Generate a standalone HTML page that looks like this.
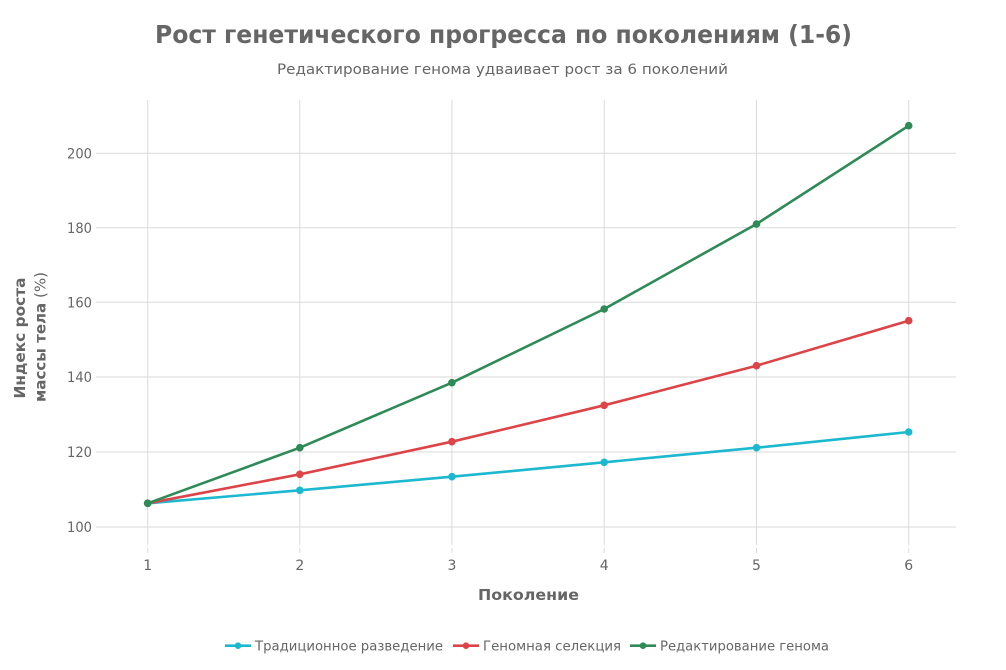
<!DOCTYPE html>
<html>
<head>
<meta charset="utf-8">
<style>
  html, body { margin: 0; padding: 0; background: #ffffff; }
  svg { display: block; }
  text { font-family: "DejaVu Sans", "Liberation Sans", sans-serif; fill: #666666; }
</style>
</head>
<body>
<svg width="1006" height="670" viewBox="0 0 1006 670" xmlns="http://www.w3.org/2000/svg">
  <rect width="1006" height="670" fill="#ffffff"/>

  <!-- Title -->
  <text x="503.5" y="43" text-anchor="middle" font-size="25" font-weight="bold" font-family="DejaVu Sans Condensed, DejaVu Sans, sans-serif" textLength="697" lengthAdjust="spacingAndGlyphs" fill="#6a6a6a">Рост генетического прогресса по поколениям (1-6)</text>
  <text x="502.5" y="74" text-anchor="middle" font-size="14" font-family="DejaVu Sans Condensed, DejaVu Sans, sans-serif" textLength="451" lengthAdjust="spacingAndGlyphs" fill="#6e6e6e">Редактирование генома удваивает рост за 6 поколений</text>

  <!-- Horizontal grid -->
  <g stroke="#dadada" stroke-width="1">
    <line x1="96" y1="153.3" x2="956" y2="153.3"/>
    <line x1="96" y1="227.8" x2="956" y2="227.8"/>
    <line x1="96" y1="302.3" x2="956" y2="302.3"/>
    <line x1="96" y1="377" x2="956" y2="377"/>
    <line x1="96" y1="452" x2="956" y2="452"/>
    <line x1="96" y1="527" x2="956" y2="527"/>
  </g>
  <!-- Vertical grid -->
  <g stroke="#dadada" stroke-width="1">
    <line x1="147.7" y1="100" x2="147.7" y2="545"/>
    <line x1="299.8" y1="100" x2="299.8" y2="545"/>
    <line x1="451.9" y1="100" x2="451.9" y2="545"/>
    <line x1="604.2" y1="100" x2="604.2" y2="545"/>
    <line x1="756.5" y1="100" x2="756.5" y2="545"/>
    <line x1="908.7" y1="100" x2="908.7" y2="545"/>
  </g>
  <g stroke="#dadada" stroke-width="1">
    <line x1="147.7" y1="548" x2="147.7" y2="553"/>
    <line x1="299.8" y1="548" x2="299.8" y2="553"/>
    <line x1="451.9" y1="548" x2="451.9" y2="553"/>
    <line x1="604.2" y1="548" x2="604.2" y2="553"/>
    <line x1="756.5" y1="548" x2="756.5" y2="553"/>
    <line x1="908.7" y1="548" x2="908.7" y2="553"/>
  </g>

  <!-- Y tick labels -->
  <g font-size="14" text-anchor="end" fill="#6e6e6e">
    <text x="92" y="158.3" textLength="25" lengthAdjust="spacingAndGlyphs">200</text>
    <text x="92" y="232.8" textLength="25" lengthAdjust="spacingAndGlyphs">180</text>
    <text x="92" y="307.3" textLength="25" lengthAdjust="spacingAndGlyphs">160</text>
    <text x="92" y="382" textLength="25" lengthAdjust="spacingAndGlyphs">140</text>
    <text x="92" y="457" textLength="25" lengthAdjust="spacingAndGlyphs">120</text>
    <text x="92" y="532" textLength="25" lengthAdjust="spacingAndGlyphs">100</text>
  </g>
  <!-- X tick labels -->
  <g font-size="14" text-anchor="middle" fill="#6e6e6e">
    <text x="147.7" y="570">1</text>
    <text x="299.8" y="570">2</text>
    <text x="451.9" y="570">3</text>
    <text x="604.2" y="570">4</text>
    <text x="756.5" y="570">5</text>
    <text x="908.7" y="570">6</text>
  </g>

  <!-- Axis titles -->
  <text x="528.5" y="600" text-anchor="middle" font-size="15" font-weight="bold" textLength="101" lengthAdjust="spacingAndGlyphs">Поколение</text>
  <g transform="translate(25,338) rotate(-90)">
    <text x="0" y="0" text-anchor="middle" font-size="15" font-weight="bold" textLength="121" lengthAdjust="spacingAndGlyphs">Индекс роста</text>
  </g>
  <g transform="translate(45.5,337) rotate(-90)">
    <text x="0" y="0" text-anchor="middle" font-size="15" textLength="130" lengthAdjust="spacingAndGlyphs"><tspan font-weight="bold">массы тела</tspan> (%)</text>
  </g>

  <!-- Series: traditional (cyan) -->
  <polyline fill="none" stroke="#1cb8cf" stroke-width="2.6" stroke-linejoin="round"
    points="147.7,503.3 299.8,490.3 451.9,476.7 604.2,462.3 756.5,447.7 908.7,432"/>
  <g fill="#1cb8cf">
    <circle cx="147.7" cy="503.3" r="3.8"/>
    <circle cx="299.8" cy="490.3" r="3.8"/>
    <circle cx="451.9" cy="476.7" r="3.8"/>
    <circle cx="604.2" cy="462.3" r="3.8"/>
    <circle cx="756.5" cy="447.7" r="3.8"/>
    <circle cx="908.7" cy="432" r="3.8"/>
  </g>

  <!-- Series: genomic selection (red) -->
  <polyline fill="none" stroke="#dc4448" stroke-width="2.6" stroke-linejoin="round"
    points="147.7,503.3 299.8,474.3 451.9,441.7 604.2,405.3 756.5,365.7 908.7,320.7"/>
  <g fill="#dc4448">
    <circle cx="147.7" cy="503.3" r="3.8"/>
    <circle cx="299.8" cy="474.3" r="3.8"/>
    <circle cx="451.9" cy="441.7" r="3.8"/>
    <circle cx="604.2" cy="405.3" r="3.8"/>
    <circle cx="756.5" cy="365.7" r="3.8"/>
    <circle cx="908.7" cy="320.7" r="3.8"/>
  </g>

  <!-- Series: genome editing (green) -->
  <polyline fill="none" stroke="#2e8b57" stroke-width="2.6" stroke-linejoin="round"
    points="147.7,503.3 299.8,447.7 451.9,382.7 604.2,309 756.5,224 908.7,125.7"/>
  <g fill="#2e8b57">
    <circle cx="147.7" cy="503.3" r="3.8"/>
    <circle cx="299.8" cy="447.7" r="3.8"/>
    <circle cx="451.9" cy="382.7" r="3.8"/>
    <circle cx="604.2" cy="309" r="3.8"/>
    <circle cx="756.5" cy="224" r="3.8"/>
    <circle cx="908.7" cy="125.7" r="3.8"/>
  </g>

  <!-- Legend -->
  <g font-size="13" fill="#6e6e6e">
    <line x1="225" y1="645.7" x2="251" y2="645.7" stroke="#1cb8cf" stroke-width="2.6"/>
    <circle cx="238" cy="645.7" r="3.3" fill="#1cb8cf"/>
    <text x="255" y="650.5" textLength="188" lengthAdjust="spacingAndGlyphs">Традиционное разведение</text>

    <line x1="453" y1="645.7" x2="479" y2="645.7" stroke="#dc4448" stroke-width="2.6"/>
    <circle cx="466" cy="645.7" r="3.3" fill="#dc4448"/>
    <text x="483" y="650.5" textLength="138" lengthAdjust="spacingAndGlyphs">Геномная селекция</text>

    <line x1="630" y1="645.7" x2="656" y2="645.7" stroke="#2e8b57" stroke-width="2.6"/>
    <circle cx="643" cy="645.7" r="3.3" fill="#2e8b57"/>
    <text x="660" y="650.5" textLength="169" lengthAdjust="spacingAndGlyphs">Редактирование генома</text>
  </g>
</svg>
</body>
</html>
